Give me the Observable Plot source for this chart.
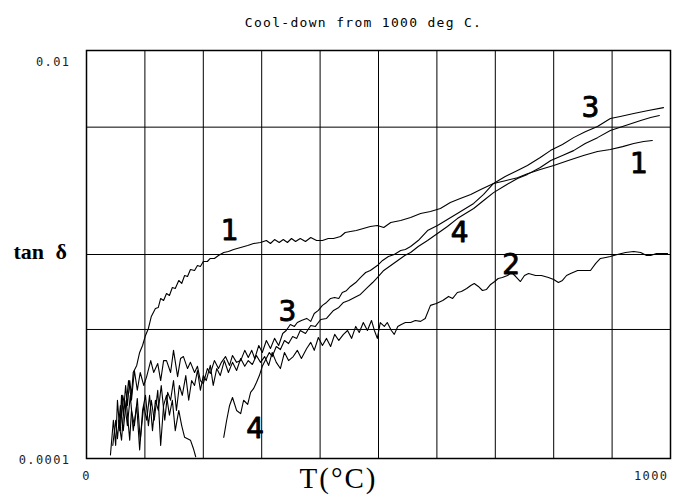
<!DOCTYPE html>
<html>
<head>
<meta charset="utf-8">
<script src="https://cdn.jsdelivr.net/npm/d3@7"></script>
<script src="https://cdn.jsdelivr.net/npm/@observablehq/plot@0.6"></script>
<style>
  html, body { margin: 0; padding: 0; background: #fff; }
  #chart svg { display: block; }
</style>
</head>
<body>
<div id="chart"></div>
<script>
// ---- Data (T in °C, tan δ values) ----
const c1T = [41,46,50,53,57,60,63,67,70,74,77,80,86,91,96,101,106,111,118,123,127,132,137,142,147,152,158,163,168,173,178,185,190,195,200,207,212,219,226,235,243,252,264,276,286,298,308,315,322,330,337,344,351,358,366,375,384,394,404,414,423,435,443,452,462,474,486,498,509,521,538,555,572,589,606,623,640,658,675,697,717,738,755,777,800,825,851,875,897,918,937,954,969];
const c1Tan = [0.000104,0.000154,0.000116,0.000193,0.000137,0.000204,0.000163,0.000228,0.000182,0.000241,0.000204,0.000264,0.000286,0.000331,0.000358,0.000401,0.000434,0.000497,0.000544,0.00055,0.000609,0.000595,0.000644,0.00063,0.000689,0.000681,0.000746,0.000721,0.000789,0.00078,0.000844,0.000835,0.000883,0.000873,0.000924,0.000924,0.000956,0.000956,0.000989,0.001023,0.001034,0.001058,0.001082,0.001107,0.001132,0.001145,0.001171,0.001132,0.001184,0.001145,0.001184,0.001145,0.001198,0.001158,0.001198,0.001158,0.001211,0.001171,0.001171,0.001198,0.001198,0.001225,0.001282,0.001296,0.001311,0.001341,0.001372,0.001387,0.001356,0.001435,0.001468,0.001518,0.001588,0.001624,0.00168,0.0018,0.00188,0.00197,0.00208,0.00223,0.0023,0.00238,0.00249,0.00261,0.00273,0.00289,0.00306,0.0032,0.00327,0.00338,0.0035,0.00358,0.00362];

const c2T = [45,50,53,58,63,68,74,77,82,87,92,98,103,108,113,118,123,128,134,139,144,149,154,159,164,170,175,180,185,190,195,200,205,212,217,223,229,236,243,250,257,264,271,277,284,291,298,305,312,318,325,332,339,346,354,361,368,377,384,390,397,404,411,418,425,432,440,447,454,461,467,474,481,488,493,498,503,510,515,522,527,533,539,546,555,563,572,580,589,599,610,620,627,635,642,651,658,664,671,678,685,692,699,705,712,721,728,735,743,750,757,769,779,791,800,808,815,822,829,841,853,863,872,880,889,897,909,923,937,949,959,966,976,986,995];
const c2Tan = [0.000116,0.000154,0.000125,0.000182,0.000137,0.000193,0.000123,0.000172,0.000145,0.000197,0.000123,0.000182,0.000154,0.000204,0.000137,0.000193,0.000172,0.000228,0.000154,0.000211,0.000193,0.000241,0.000172,0.000228,0.000204,0.000255,0.000193,0.000241,0.000228,0.00027,0.000216,0.000255,0.000241,0.000286,0.000228,0.000276,0.000255,0.000302,0.000264,0.000296,0.00027,0.000309,0.000283,0.000302,0.000289,0.00032,0.000296,0.000316,0.000286,0.000331,0.000296,0.000276,0.000331,0.000302,0.000316,0.000339,0.000309,0.000346,0.000371,0.000339,0.000392,0.000358,0.000388,0.000354,0.000406,0.000379,0.000406,0.000424,0.000388,0.000444,0.000415,0.000464,0.000424,0.000475,0.000424,0.000388,0.000464,0.000444,0.000464,0.000424,0.000406,0.000444,0.000454,0.000464,0.000464,0.000475,0.00047,0.000486,0.000563,0.000575,0.000595,0.000623,0.000609,0.000651,0.000659,0.000681,0.000705,0.000721,0.000697,0.000666,0.000674,0.000713,0.000737,0.000763,0.000771,0.000789,0.000816,0.00078,0.000737,0.000789,0.000807,0.000789,0.000789,0.000771,0.000754,0.000729,0.000746,0.000789,0.000807,0.000835,0.000835,0.000835,0.000904,0.000956,0.000967,0.000978,0.001,0.001023,0.001034,0.001023,0.000989,0.000989,0.001011,0.001011,0.001011];

const c3T = [58,62,67,72,77,82,87,92,98,103,110,115,122,127,132,137,144,149,156,161,166,173,178,185,190,195,200,207,212,219,226,231,238,245,250,257,264,271,277,283,288,295,301,308,315,322,329,336,342,349,356,361,368,377,384,390,397,404,411,418,425,432,438,445,452,461,469,478,486,498,507,517,527,538,546,555,568,584,601,618,635,649,663,680,697,717,738,755,777,795,815,834,854,875,897,914,937,962,988];
const c3Tan = [0.000137,0.000204,0.000172,0.000241,0.000193,0.00027,0.000216,0.000264,0.000228,0.000252,0.000302,0.000264,0.000292,0.000241,0.000302,0.000302,0.000264,0.000339,0.000252,0.000309,0.000316,0.000276,0.000296,0.000264,0.000283,0.000241,0.000233,0.000276,0.000261,0.000302,0.000276,0.000296,0.000316,0.000286,0.00032,0.000296,0.000302,0.000339,0.000313,0.000339,0.000309,0.000358,0.000331,0.000379,0.000346,0.000388,0.000358,0.00041,0.000424,0.000454,0.000444,0.000464,0.000475,0.000486,0.00047,0.000514,0.000532,0.000563,0.000582,0.000609,0.000616,0.000609,0.000651,0.000665,0.000697,0.000729,0.000771,0.000816,0.000835,0.000883,0.000935,0.000978,0.001,0.001046,0.001058,0.001094,0.001171,0.001311,0.001387,0.001484,0.001588,0.00168,0.00178,0.00197,0.00223,0.00241,0.00258,0.00273,0.00299,0.00324,0.00346,0.00374,0.004,0.00424,0.00464,0.00475,0.00491,0.00508,0.00525];

// curve 4: low-temperature part (drops below 0.0001 near 190 °C) ...
const c4aT = [55,60,65,70,75,80,86,91,96,101,106,111,116,122,127,132,137,142,147,152,158,163,168,173,178,183,187];
const c4aTan = [0.000154,0.000123,0.000193,0.000145,0.000204,0.000137,0.000182,0.00011,0.000172,0.000204,0.000145,0.000193,0.000154,0.000216,0.000116,0.000182,0.000204,0.000163,0.000193,0.000137,0.000172,0.000145,0.000127,0.000125,0.000123,0.000112,0.000102];
// ... and the part above 230 °C
const c4T = [235,240,245,250,257,264,269,276,281,286,291,296,301,306,313,318,325,332,339,346,353,360,366,375,384,392,401,411,423,432,440,449,459,469,479,490,498,509,521,533,545,555,568,584,601,618,635,649,663,680,697,717,738,755,777,795,815,834,854,875,897,923,949,966,981];
const c4Tan = [0.000127,0.000154,0.000182,0.000199,0.000172,0.000166,0.000193,0.000184,0.000211,0.00022,0.000236,0.000255,0.000283,0.000302,0.000331,0.000316,0.000354,0.000342,0.000379,0.000366,0.000396,0.000388,0.000424,0.00041,0.000449,0.000444,0.00048,0.000486,0.000532,0.00055,0.000582,0.000595,0.000616,0.000637,0.000681,0.000729,0.000771,0.000835,0.000883,0.000935,0.000989,0.001023,0.001094,0.001171,0.001267,0.001372,0.0015,0.001588,0.00168,0.00184,0.00201,0.00218,0.00236,0.00247,0.00267,0.00289,0.00306,0.00323,0.0035,0.00374,0.00405,0.00429,0.00454,0.00469,0.0048];

// curve number labels (hand-written in the original)
const labelText = ["1", "1", "2", "3", "3", "4", "4"];
const labelT    = [245, 946, 727, 863, 344, 639, 289];
const labelTan  = [0.00131, 0.00279, 0.000883, 0.0052, 0.00052, 0.00128, 0.00014];

// grid & ticks
const xGrid = [100, 200, 300, 400, 500, 600, 700, 800, 900];
const yGrid = [0.00421, 0.001, 0.000429];
const yTickVals = [0.01, 0.0001];
const yTickLabels = ["0.01", "0.0001"];
const xTickVals = [0, 1000];
const xTickLabels = ["0", "1000"];
const title = "Cool-down from 1000 deg C.";

const toRows = (T, v, id) => T.map((t, i) => ({T: t, v: v[i], id}));
const curves = [
  ...toRows(c1T, c1Tan, "1"),
  ...toRows(c2T, c2Tan, "2"),
  ...toRows(c3T, c3Tan, "3"),
  ...toRows(c4aT, c4aTan, "4a"),
  ...toRows(c4T, c4Tan, "4")
];
const labels = labelText.map((t, i) => ({t, T: labelT[i], v: labelTan[i]}));

const mono = "'DejaVu Sans Mono', 'Liberation Mono', monospace";
const serif = "'Liberation Serif', 'DejaVu Serif', serif";

const chart = Plot.plot({
  width: 680,
  height: 501,
  marginLeft: 86,
  marginRight: 10,
  marginTop: 50,
  marginBottom: 43,
  style: {background: "#fff", color: "#000", overflow: "visible"},
  x: {domain: [0, 1000], axis: null},
  y: {type: "log", domain: [0.0001, 0.01], axis: null},
  marks: [
    Plot.ruleX(xGrid, {stroke: "#000", strokeWidth: 1}),
    Plot.ruleY(yGrid, {stroke: "#000", strokeWidth: 1}),
    Plot.frame({stroke: "#000", strokeWidth: 1.5}),
    Plot.line(curves, {x: "T", y: "v", z: "id", stroke: "#000", strokeWidth: 1.1, strokeLinejoin: "round"}),
    Plot.text(labels, {x: "T", y: "v", text: "t", fontSize: 28,
      fontFamily: "'DejaVu Sans', sans-serif", fill: "#000", stroke: "#000", strokeWidth: 0.9}),
    // y tick labels
    Plot.text([yTickVals[0]], {y: d => d, text: () => yTickLabels[0], frameAnchor: "left",
      textAnchor: "end", dx: -16, dy: 12, fontSize: 12, fontFamily: mono, fill: "#222"}),
    Plot.text([yTickVals[1]], {y: d => d, text: () => yTickLabels[1], frameAnchor: "left",
      textAnchor: "end", dx: -16, dy: 2, fontSize: 12, fontFamily: mono, fill: "#222"}),
    // x tick labels
    Plot.text([xTickVals[0]], {x: d => d, text: () => xTickLabels[0], frameAnchor: "bottom",
      dy: 21, fontSize: 12, fontFamily: mono, fill: "#222"}),
    Plot.text([xTickVals[1]], {x: d => d, text: () => xTickLabels[1], frameAnchor: "bottom",
      textAnchor: "end", dx: -2, dy: 21, fontSize: 12, fontFamily: mono, fill: "#222"}),
    // axis titles
    Plot.text(["tan δ"], {frameAnchor: "left", y: 0.001, dx: -73, dy: -3, textAnchor: "start",
      fontSize: 22, fontWeight: "bold", fontFamily: serif, fill: "#000"}),
    Plot.text(["T(°C)"], {frameAnchor: "bottom", dx: -40, dy: 29, fontSize: 29,
      fontFamily: serif, fill: "#000"}),
    // title
    Plot.text([title], {frameAnchor: "top", dx: -15, dy: -33, fontSize: 13,
      fontFamily: mono, fill: "#000"})
  ]
});
// spacing details of the original lettering
d3.select(chart).selectAll("text").each(function () {
  const t = this.textContent;
  if (t === title) this.setAttribute("letter-spacing", "1.3px");
  if (yTickLabels.includes(t) || xTickLabels.includes(t)) this.setAttribute("letter-spacing", "1.4px");
  if (t === "tan δ") this.setAttribute("word-spacing", "6px");
  if (t === "T(°C)") this.setAttribute("letter-spacing", "2px");
});
document.getElementById("chart").appendChild(chart);
</script>
</body>
</html>
